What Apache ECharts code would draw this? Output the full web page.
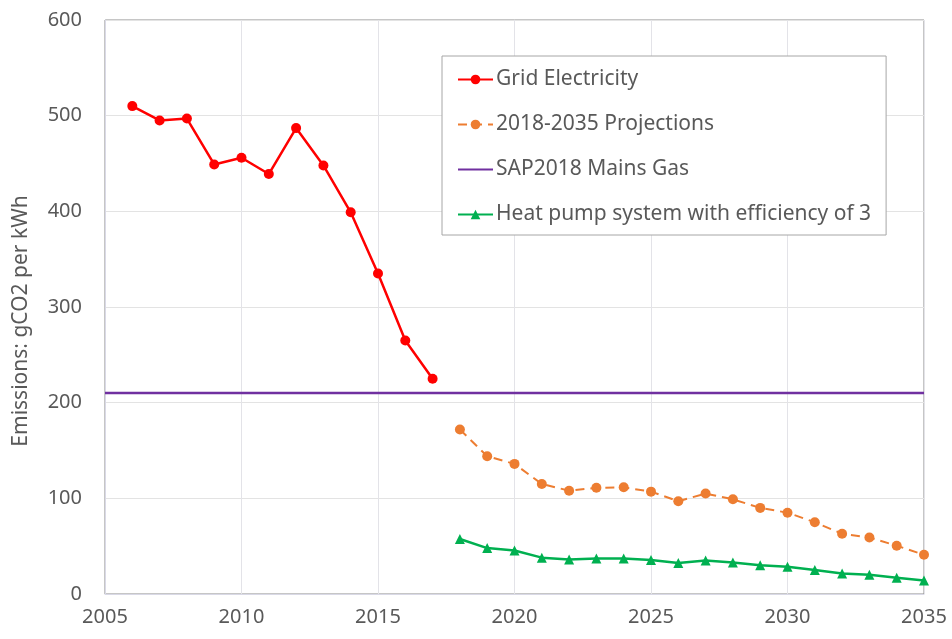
<!DOCTYPE html>
<html>
<head>
<meta charset="utf-8">
<script src="https://cdn.jsdelivr.net/npm/echarts@6/dist/echarts.min.js"></script>
<style>html,body{margin:0;padding:0;background:#fff}#c{width:952px;height:639px}</style>
</head>
<body>
<div id="c"></div>
<script>
const gridYears = [2006,2007,2008,2009,2010,2011,2012,2013,2014,2015,2016,2017];
const gridValues = [510,495,497,449,456,439,487,448,399,335,265,225];
const projYears = [2018,2019,2020,2021,2022,2023,2024,2025,2026,2027,2028,2029,2030,2031,2032,2033,2034,2035];
const projValues = [172,144,136,115,108,111,111.5,107,97,105,99,90,85,75,63,59,50.5,41];
const heatPumpValues = [57.5,48,45.5,38,36,37,37,35.5,32.5,35,33,30,28.5,25,21.5,20,17,14];
const gasYears = [2005,2035];
const gasValues = [210,210];
const legendNames = ['Grid Electricity','2018-2035 Projections','SAP2018 Mains Gas','Heat pump system with efficiency of 3'];
const yAxisTitle = 'Emissions: gCO2 per kWh';

const zip = (xs, ys) => xs.map((x, i) => [x, ys[i]]);
const chart = echarts.init(document.getElementById('c'));
const font = 'Noto Sans';
chart.setOption({
  animation: false,
  backgroundColor: '#fff',
  grid: { left: 105, right: 28, top: 20, bottom: 45, show: true, borderColor: '#8c8c8c', borderWidth: 1 },
  xAxis: {
    type: 'value', min: 2005, max: 2035, interval: 5,
    axisLine: { show: true, lineStyle: { color: '#d9d9e6', width: 1 } },
    axisTick: { show: false },
    splitLine: { show: true, lineStyle: { color: '#e3e3e8', width: 1 } },
    axisLabel: { formatter: v => String(v), color: '#595959', fontSize: 20, fontFamily: font, margin: 13 }
  },
  yAxis: {
    type: 'value', min: 0, max: 600, interval: 100,
    name: yAxisTitle, nameLocation: 'middle', nameGap: 73,
    nameTextStyle: { color: '#595959', fontSize: 21, fontFamily: font, padding: [0, 28, 0, 0] },
    axisLine: { show: true, lineStyle: { color: '#d9d9e6', width: 1 } },
    axisTick: { show: false },
    splitLine: { show: true, lineStyle: { color: '#e3e3e3', width: 1 } },
    axisLabel: { color: '#595959', fontSize: 20, fontFamily: font, margin: 23 }
  },
  legend: {
    orient: 'vertical', left: 442, top: 56,
    backgroundColor: '#fff', borderColor: '#a6a6a6', borderWidth: 1,
    padding: [13, 15, 10, 15], itemGap: 24, itemWidth: 35, itemHeight: 12,
    textStyle: { color: '#595959', fontSize: 21, fontFamily: font, padding: [0, 0, 0, -2] },
    data: [
      legendNames[0],
      legendNames[1],
      { name: legendNames[2], itemStyle: { color: 'rgba(0,0,0,0)', borderWidth: 0 } },
      legendNames[3]
    ]
  },
  series: [
    { name: legendNames[0], type: 'line', data: zip(gridYears, gridValues),
      symbol: 'circle', symbolSize: 10, itemStyle: { color: '#ff0000' },
      lineStyle: { color: '#ff0000', width: 2.5 }, z: 5 },
    { name: legendNames[1], type: 'line', data: zip(projYears, projValues),
      symbol: 'circle', symbolSize: 10, itemStyle: { color: '#ed7d31' },
      lineStyle: { color: '#ed7d31', width: 2, type: [9, 6] }, z: 4 },
    { name: legendNames[2], type: 'line', data: zip(gasYears, gasValues),
      symbol: 'none', itemStyle: { color: '#7030a0' },
      lineStyle: { color: '#7030a0', width: 2.5 }, z: 3 },
    { name: legendNames[3], type: 'line', data: zip(projYears, heatPumpValues),
      symbol: 'triangle', symbolSize: 10, itemStyle: { color: '#00b050' },
      lineStyle: { color: '#00b050', width: 2.5 }, z: 4 }
  ]
});
</script>
</body>
</html>
